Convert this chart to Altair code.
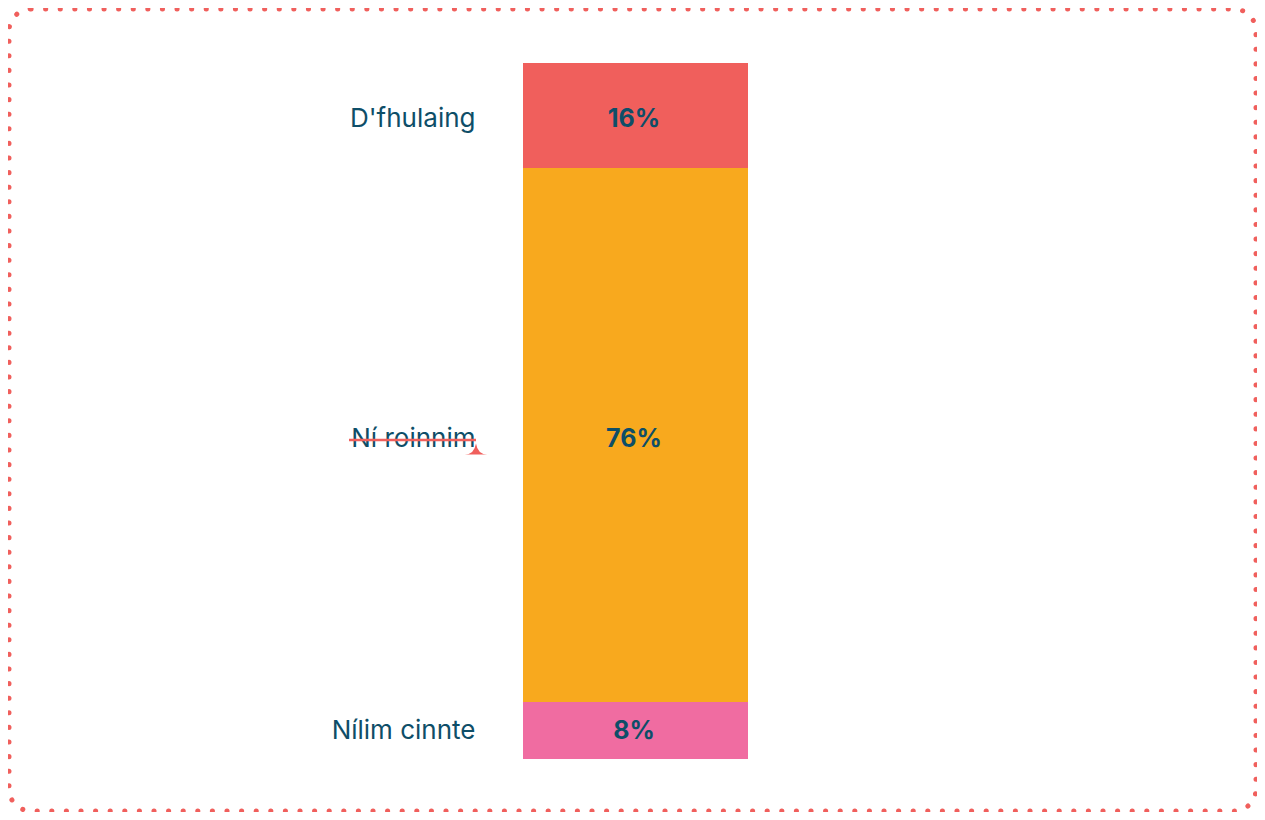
import altair as alt
import pandas as pd

categories = ["D'fhulaing", "Ní roinnim", "Nílim cinnte"]
bar_shares = [15.1, 76.7, 8.2]
pct_values = [16, 76, 8]
pct_labels = ["16%", "76%", "8%"]
colors = ["#F05F5C", "#F8A91E", "#F06CA1"]

TEXT = "#0E4E68"
FONT = "Inter"

df = pd.DataFrame({
    "cat": categories,
    "share": bar_shares,
    "pct": pct_values,
    "label": pct_labels,
    "order": list(range(len(categories))),
    "grp": ["a"] * len(categories),
})

yscale = alt.Scale(domain=[0, 100], range=[55, 751], nice=False)
xscale = alt.Scale(domain=["a"], range=[515, 740], paddingInner=0, paddingOuter=0)
cscale = alt.Scale(domain=categories, range=colors)

base = alt.Chart(df)

bars = base.mark_bar(size=225).encode(
    x=alt.X("grp:N", scale=xscale, axis=None),
    y=alt.Y("share:Q", stack="zero", scale=yscale, axis=None),
    color=alt.Color("cat:N", scale=cscale, legend=None),
    order=alt.Order("order:Q", sort="ascending"),
)

txt_base = base.transform_window(
    cum="sum(pct)", sort=[alt.SortField("order", order="ascending")]
).transform_calculate(mid="datum.cum - datum.pct / 2")

pct_text = txt_base.mark_text(
    font=FONT, fontSize=25, fontWeight="bold", color=TEXT, baseline="middle", align="center", dx=-1.5
).encode(
    x=alt.X("grp:N", scale=xscale, axis=None),
    y=alt.Y("mid:Q", scale=yscale, axis=None),
    text="label:N",
)

cat_text = txt_base.mark_text(
    font=FONT, fontSize=26, color=TEXT, baseline="middle", align="right", dx=-160
).encode(
    x=alt.X("grp:N", scale=xscale, axis=None),
    y=alt.Y("mid:Q", scale=yscale, axis=None),
    text="cat:N",
)

strike = alt.Chart(df).mark_rule(color="#F05F5C", strokeWidth=2.5).encode(
    x=alt.value(341), x2=alt.value(468), y=alt.value(432)
).transform_filter("datum.order == 1")

spike = alt.Chart(df).mark_point(
    shape="M-1,0.5 Q-0.15,0.45 0,-0.5 Q0.15,0.45 1,0.5 Z",
    filled=True, color="#F05F5C", opacity=1, size=500
).encode(x=alt.value(468), y=alt.value(441)).transform_filter("datum.order == 1")

border = alt.Chart(df).mark_rect(
    fillOpacity=0, stroke="#F05F5C", strokeWidth=5, strokeDash=[0.1, 14.5],
    strokeCap="round", cornerRadius=22
).encode(
    x=alt.value(1), x2=alt.value(1248), y=alt.value(1), y2=alt.value(803)
).transform_filter("datum.order == 0")

chart = alt.layer(border, bars, pct_text, cat_text, strike, spike).properties(
    width=1249, height=804, padding=0,
    autosize=alt.AutoSizeParams(type="none"),
    background="white",
).configure_view(strokeWidth=0, stroke="transparent")

chart.save("out.html", embed_options={"renderer": "svg", "actions": False})
